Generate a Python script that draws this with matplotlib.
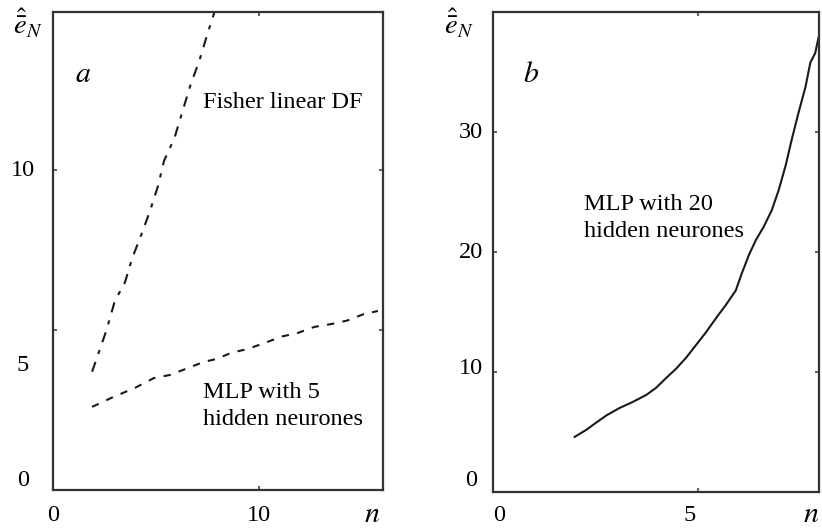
import matplotlib
matplotlib.use("Agg")
import matplotlib.pyplot as plt
import matplotlib.transforms as mtransforms

plt.rcParams["font.family"] = ["Liberation Serif", "DejaVu Serif"]
plt.rcParams["mathtext.fontset"] = "stix"

# panel a: Fisher linear DF (dash-dot) and MLP with 5 hidden neurones (dashed)
fisher_n = [1.9, 2.6, 3.0, 3.5, 3.85, 4.3, 4.7, 5.1, 5.4, 5.9, 6.25, 6.7, 7.1, 7.5, 7.85]
fisher_e = [3.7, 5.0, 5.9, 6.5, 7.25, 8.0, 8.7, 9.5, 10.3, 11.0, 11.75, 12.7, 13.4, 14.25, 14.95]

mlp5_n = [1.9, 2.9, 4.0, 4.9, 5.7, 6.5, 7.3, 7.95, 8.7, 9.4, 10.3, 11.1, 11.85, 12.7, 13.6, 14.3, 15.1, 15.8]
mlp5_e = [2.6, 2.9, 3.2, 3.5, 3.6, 3.8, 4.0, 4.1, 4.3, 4.4, 4.6, 4.8, 4.9, 5.1, 5.2, 5.3, 5.5, 5.6]

# panel b: MLP with 20 hidden neurones (solid)
mlp20_n = [1.99, 2.28, 2.52, 2.77, 3.08, 3.40, 3.74, 3.98, 4.22, 4.47, 4.71, 4.95, 5.19, 5.44,
           5.68, 5.92, 6.07, 6.24, 6.41, 6.60, 6.80, 6.97, 7.14, 7.28, 7.45, 7.62, 7.74, 7.86, 7.94]
mlp20_e = [4.6, 5.2, 5.8, 6.4, 7.0, 7.5, 8.1, 8.7, 9.5, 10.3, 11.2, 12.25, 13.3, 14.5,
           15.6, 16.8, 18.25, 19.75, 21.0, 22.1, 23.5, 25.2, 27.25, 29.3, 31.6, 33.75, 35.8, 36.6, 37.9]

# tick labels (as printed; some sit off their tick marks in the original)
a_ylabels = ["10", "5", "0"]
a_ylabel_pos = [10.0, 3.9, 0.3]
a_xlabels = ["0", "10"]
a_xlabel_pos = [0, 10]
b_ylabels = ["30", "20", "10", "0"]
b_ylabel_pos = [30.0, 20.0, 10.3, 1.0]
b_xlabels = ["0", "5"]
b_xlabel_pos = [0.15, 4.8]

INK = "#1a1a1a"
FS = 17.5


def style_axes(ax, xlim, ylim, xticks, yticks):
    ax.set_xlim(*xlim)
    ax.set_ylim(*ylim)
    ax.set_xticks(xticks)
    ax.set_yticks(yticks)
    ax.tick_params(direction="in", length=3, width=1.2, colors="#444444",
                   top=True, right=True, labelbottom=False, labelleft=False)
    for sp in ax.spines.values():
        sp.set_linewidth(1.6)
        sp.set_color("#333333")


def put_labels(fig, ax, ylabels, ypos, xlabels, xpos, ylab_x, n_x):
    ytrans = mtransforms.blended_transform_factory(fig.transFigure, ax.transData)
    for lab, y in zip(ylabels, ypos):
        ax.text(ylab_x, y, lab, transform=ytrans, ha="center", va="center", fontsize=FS)
    xtrans = mtransforms.blended_transform_factory(ax.transData, fig.transFigure)
    for lab, x in zip(xlabels, xpos):
        ax.text(x, 0.024, lab, transform=xtrans, ha="center", va="center", fontsize=FS)
    ntrans = mtransforms.blended_transform_factory(ax.transAxes, fig.transFigure)
    ax.text(n_x, 0.024, "$n$", transform=ntrans, ha="center", va="center", fontsize=FS + 4)


fig = plt.figure(figsize=(8.22, 5.28), dpi=100)
ax_a = fig.add_axes([0.0645, 0.072, 0.4015, 0.905])
ax_b = fig.add_axes([0.5998, 0.068, 0.3970, 0.909])

# panel a
ax_a.plot(fisher_n, fisher_e, color=INK, lw=1.5, dashes=(5, 4, 2, 4))
ax_a.plot(mlp5_n, mlp5_e, color=INK, lw=1.5, dashes=(3.5, 4))
style_axes(ax_a, (0, 16.05), (0, 14.95), [10], [5, 10])
put_labels(fig, ax_a, a_ylabels, a_ylabel_pos, a_xlabels, a_xlabel_pos, 0.028, 0.968)
ax_a.text(0.09, 0.868, "$a$", transform=ax_a.transAxes, fontsize=FS + 4, ha="center", va="center")
ax_a.text(0.455, 0.81, "Fisher linear DF", transform=ax_a.transAxes, fontsize=FS, va="center")
ax_a.text(0.455, 0.205, "MLP with 5", transform=ax_a.transAxes, fontsize=FS, va="center")
ax_a.text(0.455, 0.148, "hidden neurones", transform=ax_a.transAxes, fontsize=FS, va="center")
fig.text(0.034, 0.955, r"$\hat{\bar{e}}_N$", fontsize=FS + 3, ha="center", va="center")

# panel b
ax_b.plot(mlp20_n, mlp20_e, color=INK, lw=1.5)
style_axes(ax_b, (0, 7.96), (0, 40), [5], [10, 20, 30])
put_labels(fig, ax_b, b_ylabels, b_ylabel_pos, b_xlabels, b_xlabel_pos, 0.573, 0.975)
ax_b.text(0.115, 0.868, "$b$", transform=ax_b.transAxes, fontsize=FS + 4, ha="center", va="center")
ax_b.text(0.278, 0.6, "MLP with 20", transform=ax_b.transAxes, fontsize=FS, va="center")
ax_b.text(0.278, 0.543, "hidden neurones", transform=ax_b.transAxes, fontsize=FS, va="center")
fig.text(0.558, 0.955, r"$\hat{\bar{e}}_N$", fontsize=FS + 3, ha="center", va="center")

fig.savefig("out.png", dpi=100)
